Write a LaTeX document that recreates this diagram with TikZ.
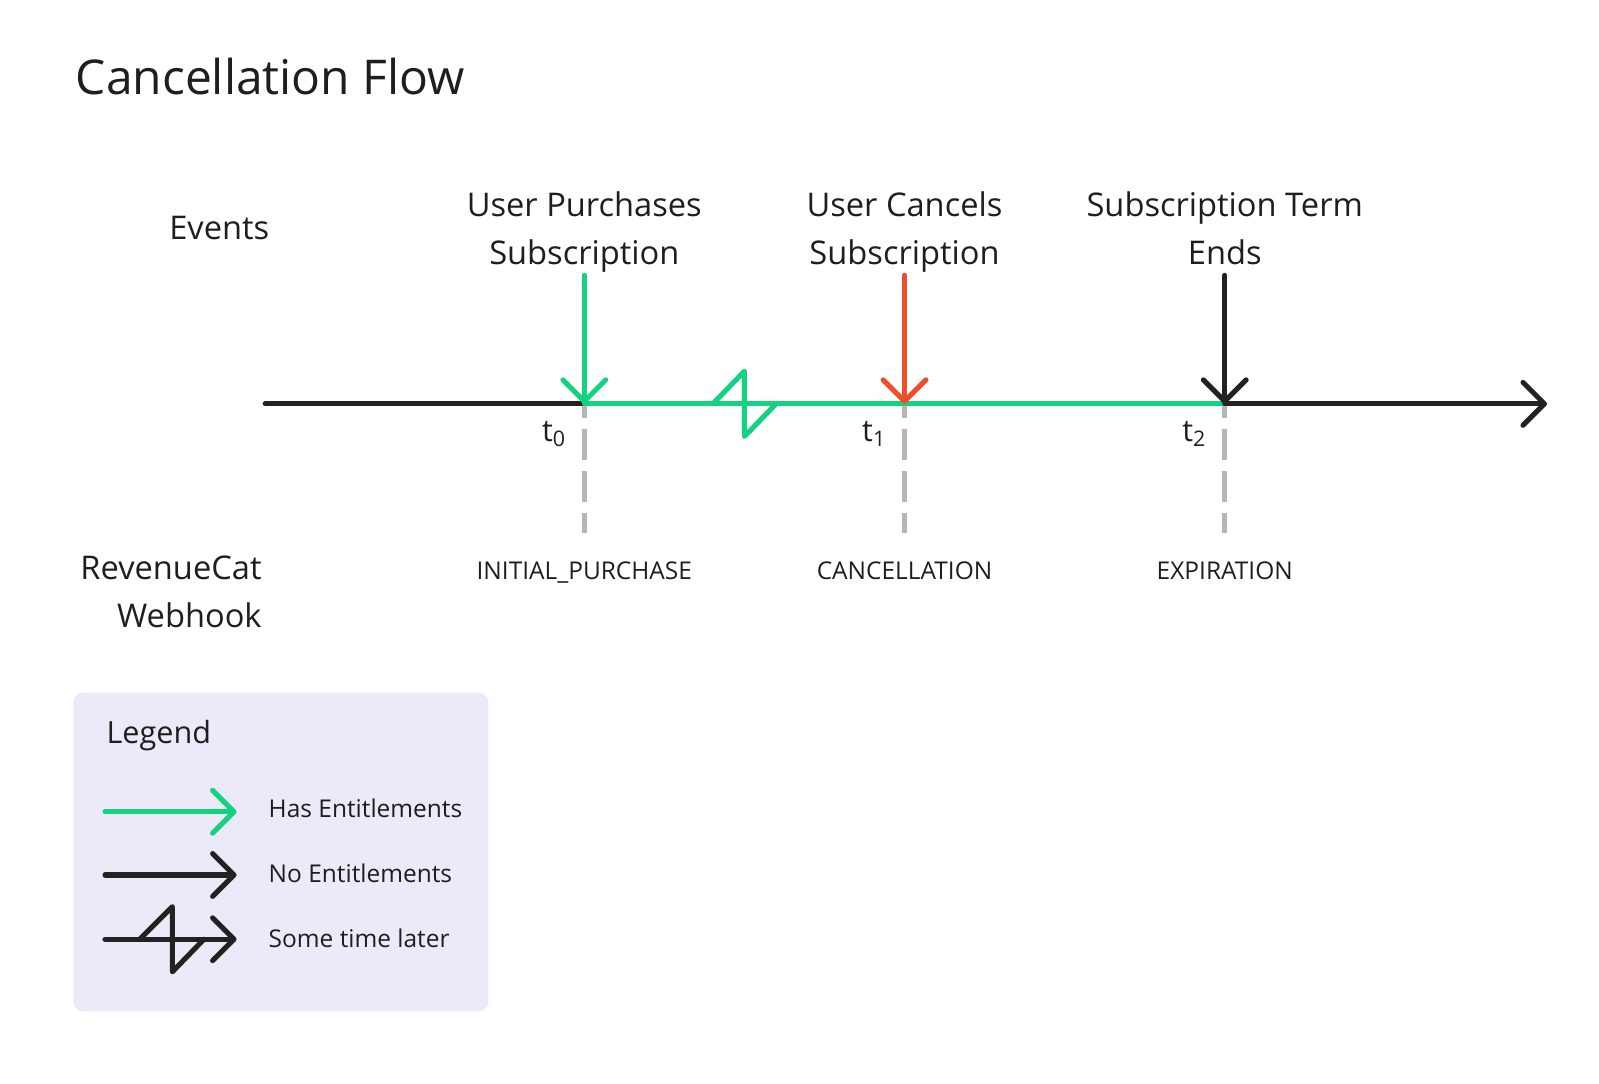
\documentclass[tikz,border=0pt]{standalone}
\usepackage{fontspec}
\setmainfont{Open Sans}
\usetikzlibrary{arrows.meta}

\definecolor{entgreen}{RGB}{20,210,128}
\definecolor{cancelred}{RGB}{240,78,42}
\definecolor{inkblack}{RGB}{34,34,34}
\definecolor{tickgray}{RGB}{182,182,182}
\definecolor{legendbg}{RGB}{236,233,248}
\definecolor{textcol}{RGB}{30,30,30}

\begin{document}
\begin{tikzpicture}[x=0.5pt,y=-0.5pt,
   line width=2.5pt, line cap=round, line join=round,
   tip/.style={-{Straight Barb[round,length=10.5pt,width=21pt]}},
   has/.style={draw=entgreen},
   noent/.style={draw=inkblack},
   tick/.style={draw=tickgray,line cap=butt,dash pattern=on 15pt off 5.5pt,dash phase=8pt},
   evt/.style={inner sep=0pt,align=center,text=textcol,font=\fontsize{16}{23.5}\selectfont},
   hook/.style={inner sep=0pt,anchor=base,text=textcol,font=\fontsize{12}{14}\selectfont},
   tlbl/.style={inner sep=0pt,text=textcol,font=\fontsize{15}{18}\selectfont},
   legtext/.style={inner sep=0pt,anchor=base west,text=textcol,font=\fontsize{12}{14}\selectfont}
]
\useasboundingbox (0,0) rectangle (1568,1062);

\node[anchor=base west,inner sep=0pt,text=textcol,font=\fontsize{23.5}{28}\selectfont] (title) at (72,93) {Cancellation Flow};
\node[evt,anchor=base] (events) at (215,235) {Events};
% base of a two-line node is its last line
\node[evt,align=right,anchor=base east] (webhook) at (259,615) {RevenueCat\\Webhook};

% events along the time line
\foreach \n/\x/\col/\ev/\hook in {
   0/573/entgreen/{User Purchases\\Subscription}/INITIAL\_PURCHASE,
   1/887/cancelred/{User Cancels\\Subscription}/CANCELLATION,
   2/1201/inkblack/{Subscription Term\\Ends}/EXPIRATION}
{
  \coordinate (t\n) at (\x,396);
  \coordinate (top\n) at (\x,270);
  \node[evt,anchor=base] (ev\n) at (\x,259) {\ev};
  \node[hook] (hook\n) at (\x,568) {\hook};
  \node[tlbl,anchor=base west] (tl\n) at (\x-44,433) {t\textsubscript{\n}};
  \draw[tick] (t\n) -- ++(0,127);
}
\coordinate (start) at (260,396);
\coordinate (end) at (1517,396);
\coordinate (brk) at (730,396);

\draw[noent] (start) -- (t0);
\draw[has] (t0) -- (t2);
\draw[noent,tip] (t2) -- (end);
\draw[has] (brk) ++(-31,0) -- ++(31,-32) -- ++(0,64) -- ++(31,-32);

\draw[has,tip] (top0) -- (t0);
\draw[draw=cancelred,tip] (top1) -- (t1);
\draw[noent,tip] (top2) -- (t2);

% legend
\fill[legendbg,rounded corners=5pt] (72,679) rectangle (479,992);
\node[anchor=base west,inner sep=0pt,text=textcol,font=\fontsize{15}{18}\selectfont] (legend) at (102,729) {Legend};
\node[legtext] (leg1) at (261,802) {Has Entitlements};
\node[legtext] (leg2) at (261,865) {No Entitlements};
\node[legtext] (leg3) at (261,929) {Some time later};
\draw[has,tip] (leg1.base west) ++(-158,-6) -- ++(129,0);
\draw[noent,tip] (leg2.base west) ++(-158,-7) -- ++(129,0);
\draw[noent,tip] (leg3.base west) ++(-158,-8) -- ++(129,0);
\draw[noent] (leg3.base west) ++(-124,-8) -- ++(32,-32) -- ++(0,64) -- ++(31,-32);
\end{tikzpicture}
\end{document}
